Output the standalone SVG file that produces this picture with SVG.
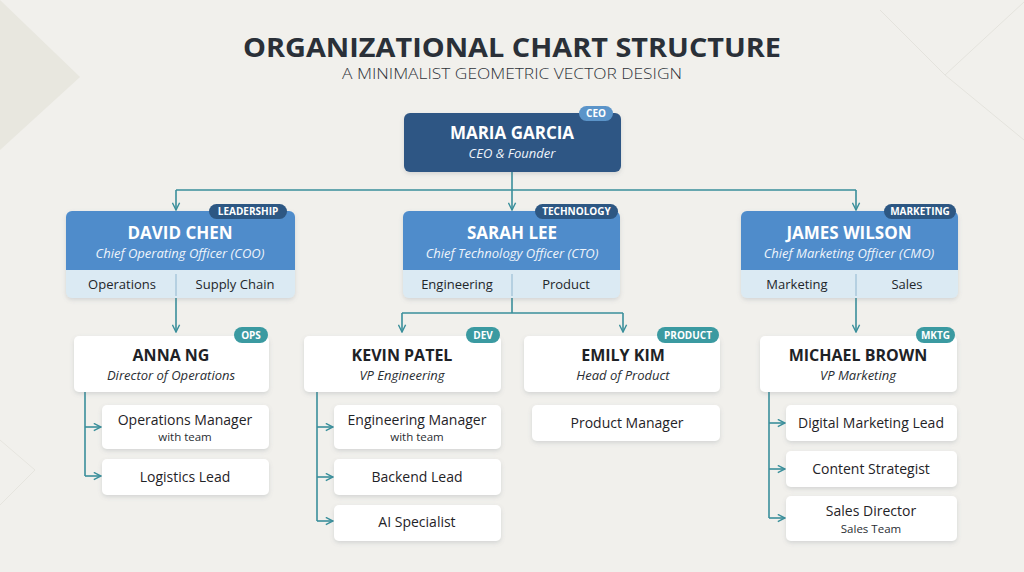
<svg xmlns="http://www.w3.org/2000/svg" width="1024" height="572" viewBox="0 0 1024 572">
<defs>
<style>
.title{font-family:"Open Sans","Liberation Sans",sans-serif;font-weight:700;fill:#2a3038}
.sub{font-family:"Open Sans","Liberation Sans",sans-serif;font-weight:300;fill:#2f3339}
.nmw{font-family:"Open Sans","Liberation Sans",sans-serif;font-weight:700;font-size:17px;fill:#ffffff;text-anchor:middle}
.rlw{font-family:"Open Sans","Liberation Sans",sans-serif;font-style:italic;font-size:13px;fill:#eef4fb;text-anchor:middle}
.nmd{font-family:"Open Sans","Liberation Sans",sans-serif;font-weight:700;font-size:16px;fill:#1e2226;text-anchor:middle}
.rld{font-family:"Open Sans","Liberation Sans",sans-serif;font-style:italic;font-size:13px;fill:#2a2e33;text-anchor:middle}
.lbl{font-family:"Open Sans","Liberation Sans",sans-serif;font-size:13px;fill:#22262a;text-anchor:middle}
.ch{font-family:"Open Sans","Liberation Sans",sans-serif;font-size:14px;fill:#1f2327;text-anchor:middle}
.chs{font-family:"Open Sans","Liberation Sans",sans-serif;font-size:11.5px;fill:#2a2e33;text-anchor:middle}
.bdg{font-family:"Open Sans","Liberation Sans",sans-serif;font-weight:700;font-size:10px;fill:#ffffff;text-anchor:middle}
.card{fill:#ffffff;filter:url(#sh)}
.blue{fill:#4f8ccb}
.light{fill:#dbeaf3}
.teal{fill:#3b9aa1}
.dark{fill:#2d5783}
.con{fill:none;stroke:#3a8f9b;stroke-width:1.6}
</style>
<filter id="sh" x="-20%" y="-30%" width="140%" height="170%">
<feDropShadow dx="0" dy="2" stdDeviation="2.2" flood-color="#6b7680" flood-opacity="0.22"/>
</filter>
<marker id="ar" viewBox="0 0 10 10" refX="9" refY="5" markerWidth="9" markerHeight="9" markerUnits="userSpaceOnUse" orient="auto">
<path d="M1,1 L9,5 L1,9" fill="none" stroke="#3a8f9b" stroke-width="1.6"/>
</marker>
</defs>
<rect width="1024" height="572" fill="#f1f0ec"/>
<polygon points="0,0 80,77 0,150" fill="#e8e7df"/>
<polyline points="880,10 945,75 1024,140" fill="none" stroke="#e4e3dd" stroke-width="1"/>
<line x1="945" y1="75" x2="1024" y2="2" stroke="#e4e3dd" stroke-width="1"/>
<polyline points="0,440 35,470 0,505" fill="none" stroke="#e6e5df" stroke-width="1"/>

<text class="title" x="512" y="57" font-size="26" text-anchor="middle" textLength="538" lengthAdjust="spacingAndGlyphs">ORGANIZATIONAL CHART STRUCTURE</text>
<text class="sub" x="512" y="79" font-size="15" text-anchor="middle" textLength="340" lengthAdjust="spacingAndGlyphs">A MINIMALIST GEOMETRIC VECTOR DESIGN</text>

<g id="connectors">
<path class="con" d="M512,172 V190 M176,190 H856"/>
<path class="con" d="M176,190 V210" marker-end="url(#ar)"/>
<path class="con" d="M512,190 V210" marker-end="url(#ar)"/>
<path class="con" d="M856,190 V210" marker-end="url(#ar)"/>
<path class="con" d="M176,298 V332" marker-end="url(#ar)"/>
<path class="con" d="M512,298 V313 M402,313 H623"/>
<path class="con" d="M402,313 V332" marker-end="url(#ar)"/>
<path class="con" d="M623,313 V332" marker-end="url(#ar)"/>
<path class="con" d="M856,298 V332" marker-end="url(#ar)"/>
<path class="con" d="M85,392 V476"/>
<path class="con" d="M85,427 H101" marker-end="url(#ar)"/>
<path class="con" d="M85,476 H101" marker-end="url(#ar)"/>
<path class="con" d="M317,392 V521"/>
<path class="con" d="M317,427 H333" marker-end="url(#ar)"/>
<path class="con" d="M317,477 H333" marker-end="url(#ar)"/>
<path class="con" d="M317,521 H333" marker-end="url(#ar)"/>
<path class="con" d="M769,392 V518"/>
<path class="con" d="M769,423 H785" marker-end="url(#ar)"/>
<path class="con" d="M769,469 H785" marker-end="url(#ar)"/>
<path class="con" d="M769,518 H785" marker-end="url(#ar)"/>
</g>

<g id="ceo">
<rect x="404" y="113" width="217" height="59" rx="6" fill="#2f5784" filter="url(#sh)"/>
<rect x="579" y="106" width="34" height="15" rx="7.5" fill="#5b94c9"/>
<text class="bdg" x="596" y="117">CEO</text>
<text class="nmw" x="512" y="139">MARIA GARCIA</text>
<text class="rlw" x="512" y="158">CEO &amp; Founder</text>
</g>

<g id="coo">
<rect x="66" y="211" width="229" height="87" rx="6" class="light" filter="url(#sh)"/>
<rect x="66" y="211" width="229" height="59" rx="6" class="blue"/>
<rect x="66" y="262" width="229" height="8" class="blue"/>
<line x1="176" y1="274" x2="176" y2="296" stroke="#8fb6cf" stroke-width="1"/>
<rect x="209" y="204" width="78" height="15" rx="7.5" class="dark"/>
<text class="bdg" x="248" y="215">LEADERSHIP</text>
<text class="nmw" x="180" y="239">DAVID CHEN</text>
<text class="rlw" x="180" y="258">Chief Operating Officer (COO)</text>
<text class="lbl" x="122" y="289">Operations</text>
<text class="lbl" x="235" y="289">Supply Chain</text>
</g>

<g id="cto">
<rect x="403" y="211" width="217" height="87" rx="6" class="light" filter="url(#sh)"/>
<rect x="403" y="211" width="217" height="59" rx="6" class="blue"/>
<rect x="403" y="262" width="217" height="8" class="blue"/>
<line x1="512" y1="274" x2="512" y2="296" stroke="#8fb6cf" stroke-width="1"/>
<rect x="535" y="204" width="83" height="15" rx="7.5" class="dark"/>
<text class="bdg" x="576.5" y="215">TECHNOLOGY</text>
<text class="nmw" x="512" y="239">SARAH LEE</text>
<text class="rlw" x="512" y="258">Chief Technology Officer (CTO)</text>
<text class="lbl" x="457" y="289">Engineering</text>
<text class="lbl" x="566" y="289">Product</text>
</g>

<g id="cmo">
<rect x="741" y="211" width="217" height="87" rx="6" class="light" filter="url(#sh)"/>
<rect x="741" y="211" width="217" height="59" rx="6" class="blue"/>
<rect x="741" y="262" width="217" height="8" class="blue"/>
<line x1="856" y1="274" x2="856" y2="296" stroke="#8fb6cf" stroke-width="1"/>
<rect x="884" y="204" width="72" height="15" rx="7.5" class="dark"/>
<text class="bdg" x="920" y="215">MARKETING</text>
<text class="nmw" x="849" y="239">JAMES WILSON</text>
<text class="rlw" x="849" y="258">Chief Marketing Officer (CMO)</text>
<text class="lbl" x="797" y="289">Marketing</text>
<text class="lbl" x="907" y="289">Sales</text>
</g>

<g id="anna">
<rect x="74" y="336" width="195" height="56" rx="5" class="card"/>
<rect x="234" y="327" width="34" height="16" rx="8" class="teal"/>
<text class="bdg" x="251" y="338.5">OPS</text>
<text class="nmd" x="171" y="361">ANNA NG</text>
<text class="rld" x="171" y="380">Director of Operations</text>
</g>
<g id="opsmgr">
<rect x="102" y="405" width="167" height="44" rx="5" class="card"/>
<text class="ch" x="185" y="425">Operations Manager</text>
<text class="chs" x="185" y="441">with team</text>
</g>
<g id="logistics">
<rect x="102" y="459" width="167" height="36" rx="5" class="card"/>
<text class="ch" x="185" y="482">Logistics Lead</text>
</g>

<g id="kevin">
<rect x="304" y="336" width="197" height="56" rx="5" class="card"/>
<rect x="466" y="327" width="34" height="16" rx="8" class="teal"/>
<text class="bdg" x="483" y="338.5">DEV</text>
<text class="nmd" x="402" y="361">KEVIN PATEL</text>
<text class="rld" x="402" y="380">VP Engineering</text>
</g>
<g id="engmgr">
<rect x="334" y="405" width="167" height="44" rx="5" class="card"/>
<text class="ch" x="417" y="425">Engineering Manager</text>
<text class="chs" x="417" y="441">with team</text>
</g>
<g id="backend">
<rect x="334" y="459" width="167" height="36" rx="5" class="card"/>
<text class="ch" x="417" y="482">Backend Lead</text>
</g>
<g id="ai">
<rect x="334" y="505" width="167" height="36" rx="5" class="card"/>
<text class="ch" x="417" y="527">AI Specialist</text>
</g>

<g id="emily">
<rect x="524" y="336" width="196" height="56" rx="5" class="card"/>
<rect x="657" y="327" width="62" height="16" rx="8" class="teal"/>
<text class="bdg" x="688" y="338.5">PRODUCT</text>
<text class="nmd" x="623" y="361">EMILY KIM</text>
<text class="rld" x="623" y="380">Head of Product</text>
</g>
<g id="pm">
<rect x="532" y="405" width="188" height="36" rx="5" class="card"/>
<text class="ch" x="627" y="428">Product Manager</text>
</g>

<g id="michael">
<rect x="760" y="336" width="197" height="56" rx="5" class="card"/>
<rect x="916" y="327" width="39" height="16" rx="8" class="teal"/>
<text class="bdg" x="935.5" y="338.5">MKTG</text>
<text class="nmd" x="858" y="361">MICHAEL BROWN</text>
<text class="rld" x="858" y="380">VP Marketing</text>
</g>
<g id="digital">
<rect x="786" y="405" width="171" height="36" rx="5" class="card"/>
<text class="ch" x="871" y="428">Digital Marketing Lead</text>
</g>
<g id="content">
<rect x="786" y="451" width="171" height="36" rx="5" class="card"/>
<text class="ch" x="871" y="474">Content Strategist</text>
</g>
<g id="salesdir">
<rect x="786" y="496" width="171" height="45" rx="5" class="card"/>
<text class="ch" x="871" y="516">Sales Director</text>
<text class="chs" x="871" y="533">Sales Team</text>
</g>
</svg>
